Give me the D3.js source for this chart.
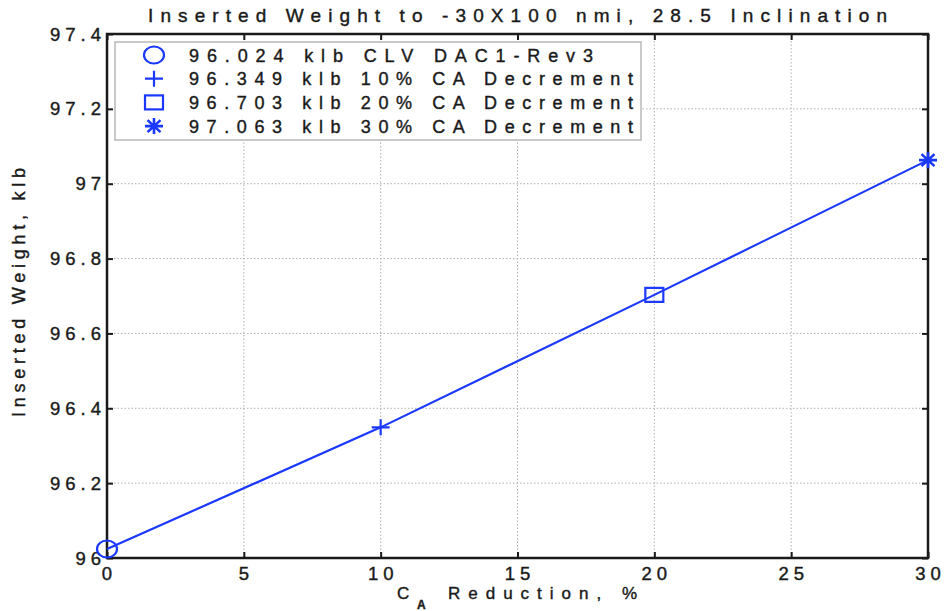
<!DOCTYPE html>
<html>
<head>
<meta charset="utf-8">
<script src="https://cdn.jsdelivr.net/npm/d3@7"></script>
<style>
  html, body { margin: 0; padding: 0; background: #fff; }
  svg { display: block; font-family: "Liberation Sans", Arial, sans-serif; }
  .lbl { fill: #1a1a1a; stroke: #1a1a1a; stroke-width: 0.4px; }
</style>
</head>
<body>
<svg id="chart" width="946" height="611"></svg>
<script>
// Cases: CA reduction (%) and resulting inserted weight (klb)
const reductions = [0, 10, 20, 30];
const weights = [96.024, 96.349, 96.703, 97.063];
const caseNames = ["CLV DAC1-Rev3", "10% CA Decrement", "20% CA Decrement", "30% CA Decrement"];
const markers = ["circle", "plus", "square", "star"];
const xTicks = [0, 5, 10, 15, 20, 25, 30];
const yTicks = [96, 96.2, 96.4, 96.6, 96.8, 97, 97.2, 97.4];

const svg = d3.select("#chart");
const blue = "#1a38ff";
const ink = "#1a1a1a";
const L = 107, R = 928, T = 34, B = 558;

const x = d3.scaleLinear().domain([0, 30]).range([L, R]);
const y = d3.scaleLinear().domain([96, 97.4]).range([B, T]);

// dotted grid
const grid = svg.append("g").attr("stroke", "#b0b0b0").attr("stroke-width", 1).attr("stroke-dasharray", "1.5,2");
grid.selectAll(".gx").data(xTicks.slice(1, -1)).join("line")
  .attr("x1", d => x(d)).attr("x2", d => x(d)).attr("y1", T).attr("y2", B);
grid.selectAll(".gy").data(yTicks.slice(1, -1)).join("line")
  .attr("y1", d => y(d)).attr("y2", d => y(d)).attr("x1", L).attr("x2", R);

// axes with inward ticks on all four sides
const tickLen = 6;
const axisStyle = g => {
  g.select(".domain").remove();
  g.selectAll(".tick line").attr("stroke", ink).attr("stroke-width", 2);
  g.selectAll(".tick text").remove();
};
svg.append("g").attr("transform", `translate(0,${B})`)
  .call(d3.axisBottom(x).tickValues(xTicks).tickSizeInner(-tickLen).tickSizeOuter(0)).call(axisStyle);
svg.append("g").attr("transform", `translate(0,${T})`)
  .call(d3.axisTop(x).tickValues(xTicks).tickSizeInner(-tickLen).tickSizeOuter(0)).call(axisStyle);
svg.append("g").attr("transform", `translate(${L},0)`)
  .call(d3.axisLeft(y).tickValues(yTicks).tickSizeInner(-tickLen).tickSizeOuter(0)).call(axisStyle);
svg.append("g").attr("transform", `translate(${R},0)`)
  .call(d3.axisRight(y).tickValues(yTicks).tickSizeInner(-tickLen).tickSizeOuter(0)).call(axisStyle);

// tick labels
const ls = 5;
svg.append("g").selectAll("text").data(xTicks).join("text").attr("class", "lbl")
  .attr("x", d => x(d) + ls / 2).attr("y", 580)
  .attr("text-anchor", "middle").attr("font-size", 18.5).attr("letter-spacing", ls)
  .text(d => d3.format("~g")(d));
svg.append("g").selectAll("text").data(yTicks).join("text").attr("class", "lbl")
  .attr("x", 101 + ls).attr("y", d => y(d) + 6.5)
  .attr("text-anchor", "end").attr("font-size", 18.5).attr("letter-spacing", ls)
  .text(d => d3.format("~g")(d));

// frame
svg.append("rect").attr("x", L).attr("y", T).attr("width", R - L).attr("height", B - T)
  .attr("fill", "none").attr("stroke", ink).attr("stroke-width", 2.5);

// marker shapes
function drawMarker(g, kind, cx, cy) {
  const s = g.append("g").attr("transform", `translate(${cx},${cy})`)
    .attr("fill", "none").attr("stroke", blue).attr("stroke-width", 2.2);
  if (kind === "circle") s.append("ellipse").attr("rx", 10).attr("ry", 8.5);
  else if (kind === "plus") s.append("path").attr("d", "M-9,0H9M0,-8V8");
  else if (kind === "square") s.append("rect").attr("x", -9).attr("y", -7).attr("width", 18).attr("height", 14);
  else if (kind === "star") s.append("path").attr("d", "M-9,0H9M0,-8V8M-6.5,-6L6.5,6M-6.5,6L6.5,-6").attr("stroke-width", 2.6);
}

// data line and markers
const line = d3.line().x(d => x(d[0])).y(d => y(d[1]));
const pts = reductions.map((r, i) => [r, weights[i]]);
svg.append("path").datum(pts).attr("d", line)
  .attr("fill", "none").attr("stroke", blue).attr("stroke-width", 2.2);
const mk = svg.append("g");
pts.forEach((p, i) => drawMarker(mk, markers[i], x(p[0]), y(p[1])));

// legend
const lg = svg.append("g");
lg.append("rect").attr("x", 115).attr("y", 42).attr("width", 526).attr("height", 98)
  .attr("fill", "#fff").attr("stroke", "#b8b8b8").attr("stroke-width", 1.5);
const rowY = i => 55 + i * 23.7;
const entryWidths = [404, 444, 444, 444];
weights.forEach((w, i) => {
  drawMarker(lg, markers[i], 154, rowY(i));
  lg.append("text").attr("class", "lbl").attr("x", 189).attr("y", rowY(i) + 6.5)
    .attr("font-size", 18)
    .attr("textLength", entryWidths[i]).attr("lengthAdjust", "spacing")
    .text(`${w.toFixed(3)} klb ${caseNames[i]}`);
});

// title
svg.append("text").attr("class", "lbl").attr("x", 148).attr("y", 22).attr("font-size", 19)
  .attr("textLength", 739).attr("lengthAdjust", "spacing")
  .text("Inserted Weight to -30X100 nmi, 28.5 Inclination");

// x axis label with subscript
svg.append("text").attr("class", "lbl").attr("x", 397).attr("y", 599).attr("font-size", 17).text("C");
svg.append("text").attr("class", "lbl").attr("x", 417).attr("y", 609).attr("font-size", 12).attr("font-weight", "bold").text("A");
svg.append("text").attr("class", "lbl").attr("x", 448).attr("y", 599).attr("font-size", 17)
  .attr("textLength", 189).attr("lengthAdjust", "spacing").text("Reduction, %");

// y axis label
svg.append("text").attr("class", "lbl").attr("transform", "translate(25,417) rotate(-90)")
  .attr("font-size", 18)
  .attr("textLength", 249).attr("lengthAdjust", "spacing").text("Inserted Weight, klb");
</script>
</body>
</html>
